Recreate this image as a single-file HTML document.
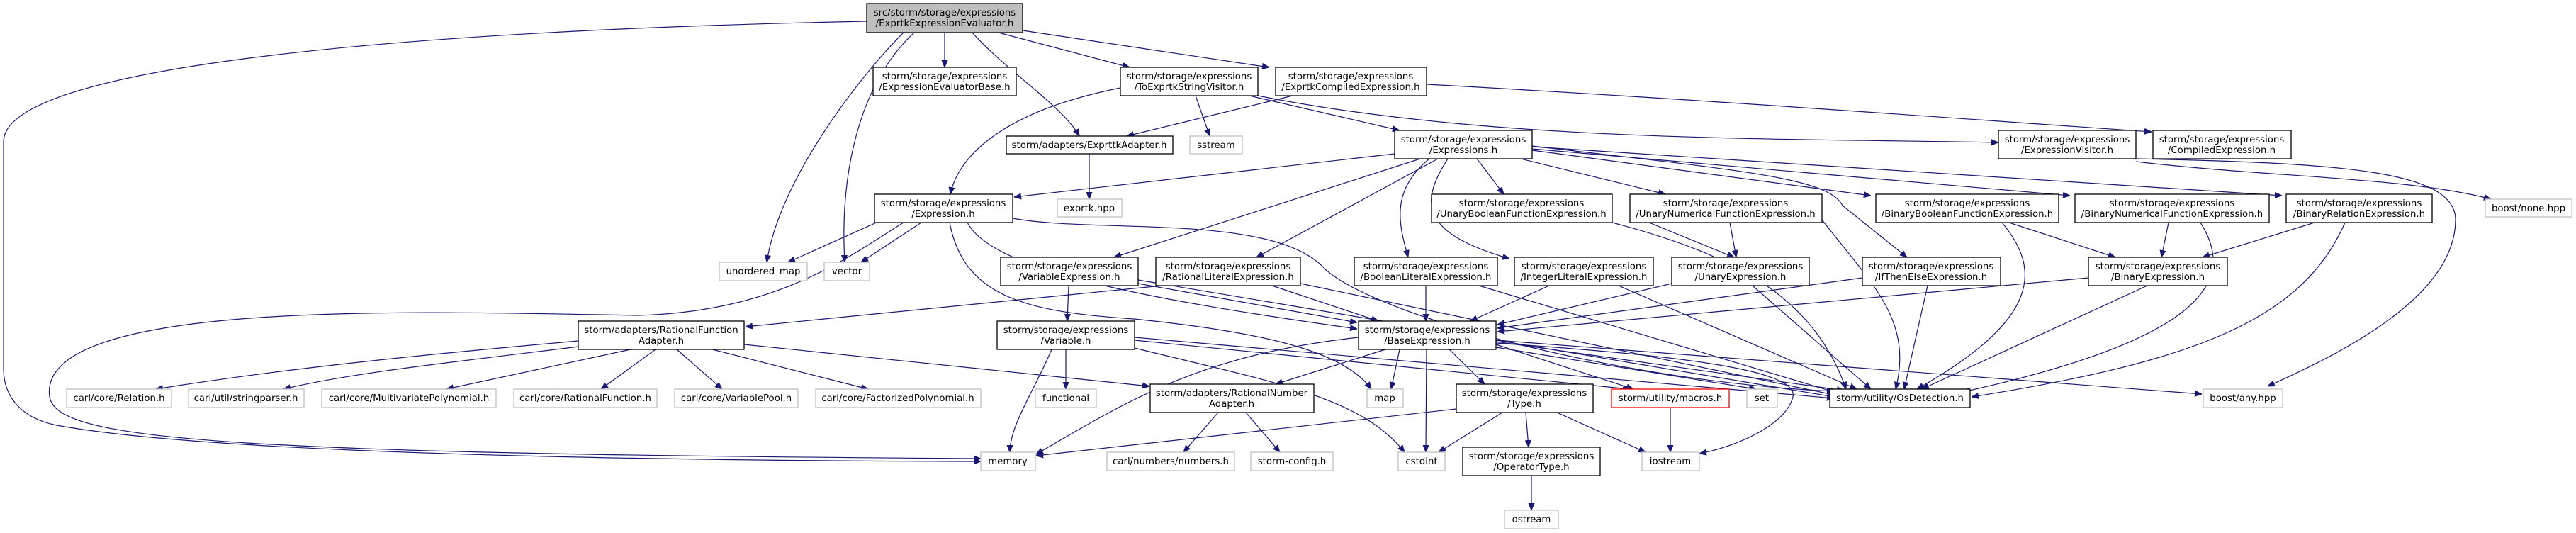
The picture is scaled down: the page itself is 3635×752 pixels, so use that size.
<!DOCTYPE html>
<html><head><meta charset="utf-8"><style>
html,body{margin:0;padding:0;background:#fff;}
svg{display:block;}
text{font-family:"DejaVu Sans","Liberation Sans",sans-serif;font-size:13.3px;fill:#000;text-anchor:middle;}
.e{fill:none;stroke:#191970;stroke-width:1.2;}
.n{fill:#fff;stroke:#000;stroke-width:1.3;}
.g{fill:#fff;stroke:#bfbfbf;stroke-width:1.3;}
</style></head><body>
<svg width="3635" height="752" viewBox="0 0 3635 752" xmlns="http://www.w3.org/2000/svg">
<defs><marker id="a" viewBox="0 0 10 10" refX="10" refY="5" markerWidth="10" markerHeight="10" markerUnits="userSpaceOnUse" orient="auto"><path d="M0,1 L10,5 L0,9 z" fill="#191970" stroke="#191970"/></marker></defs>
<g marker-end="url(#a)">
<!-- main -->
<path class="e" d="M1223,30 C500,45 5,100 5,200 L5,520 C5,560 30,590 80,600 C300,640 900,650 1384,651"/>
<path class="e" d="M1275,46 C1220,100 1100,250 1082,370"/>
<path class="e" d="M1290,46 C1210,120 1185,250 1192,370"/>
<path class="e" d="M1333,46 L1333,95"/>
<path class="e" d="M1372,46 C1420,100 1500,150 1523,192"/>
<path class="e" d="M1409,46 L1594,95"/>
<path class="e" d="M1443,43 L1791,95"/>
<!-- TESV -->
<path class="e" d="M1581,124 C1400,160 1350,230 1341,274"/>
<path class="e" d="M1687,135 L1707,192"/>
<path class="e" d="M1763,135 L1975,184"/>
<path class="e" d="M1775,135 C2100,200 2500,195 2820,201"/>
<!-- ECE -->
<path class="e" d="M1824,135 L1590,192"/>
<path class="e" d="M2013,119 C2400,140 2800,170 3036,186"/>
<path class="e" d="M1537,217 L1537,281"/>
<!-- Expressions.h -->
<path class="e" d="M1968,217 L1431,278"/>
<path class="e" d="M2004,224 L1572,363"/>
<path class="e" d="M2029,224 L1773,363"/>
<path class="e" d="M2017,224 C1960,270 1975,320 1987,363"/>
<path class="e" d="M2043,224 C2000,290 2010,330 2130,365"/>
<path class="e" d="M2084,224 L2122,274"/>
<path class="e" d="M2146,224 L2350,274"/>
<path class="e" d="M2162,206 C2450,240 2580,250 2600,290 L2691,363"/>
<path class="e" d="M2162,212 L2640,276"/>
<path class="e" d="M2162,210 L2921,276"/>
<path class="e" d="M2162,207 L3220,276"/>
<!-- Expression.h -->
<path class="e" d="M1250,308 L1112,370"/>
<path class="e" d="M1300,314 L1215,370"/>
<path class="e" d="M1275,314 C1200,360 1100,440 900,445 C600,440 50,420 70,560 C80,620 300,640 1384,647"/>
<path class="e" d="M1340,314 C1360,420 1450,440 1600,450 C1800,470 1900,500 1935,549"/>
<path class="e" d="M1365,314 C1400,380 1600,420 1915,464"/>
<path class="e" d="M1429,308 C1550,330 1800,300 1870,380 C1950,450 2300,540 2588,552"/>
<!-- VE etc -->
<path class="e" d="M1508,403 L1506,453"/>
<path class="e" d="M1606,400 L1915,455"/>
<path class="e" d="M1606,395 L2588,560"/>
<path class="e" d="M1640,403 L1052,461"/>
<path class="e" d="M1795,403 L1945,453"/>
<path class="e" d="M1835,400 L2592,558"/>
<path class="e" d="M2012,403 L2012,453"/>
<path class="e" d="M2087,403 L2598,556"/>
<path class="e" d="M2186,403 L2075,453"/>
<path class="e" d="M2284,403 L2620,549"/>
<path class="e" d="M2359,400 L2113,458"/>
<path class="e" d="M2473,403 L2640,549"/>
<path class="e" d="M2628,392 L2113,463"/>
<path class="e" d="M2720,403 L2687,549"/>
<path class="e" d="M2947,392 L2113,468"/>
<path class="e" d="M3030,403 L2712,549"/>
<path class="e" d="M2327,314 L2447,363"/>
<path class="e" d="M2275,314 C2450,360 2560,420 2605,549"/>
<path class="e" d="M2441,314 L2450,363"/>
<path class="e" d="M2571,310 C2640,400 2700,450 2675,549"/>
<path class="e" d="M2835,314 L2985,363"/>
<path class="e" d="M2825,314 C2880,380 2880,450 2705,549"/>
<path class="e" d="M3060,314 L3050,363"/>
<path class="e" d="M3105,314 C3160,400 3100,480 2770,553"/>
<path class="e" d="M3266,314 L3108,363"/>
<path class="e" d="M3309,314 C3250,450 3100,510 2782,560"/>
<!-- EV -->
<path class="e" d="M3014,224 C3300,230 3465,240 3465,310 C3465,420 3300,500 3200,545"/>
<path class="e" d="M3014,228 C3200,250 3400,250 3515,281"/>
<!-- RFA -->
<path class="e" d="M816,481 C600,500 400,520 220,549"/>
<path class="e" d="M816,489 C650,510 500,525 400,549"/>
<path class="e" d="M890,493 L630,549"/>
<path class="e" d="M925,493 L848,549"/>
<path class="e" d="M955,493 L1019,549"/>
<path class="e" d="M1005,493 L1225,549"/>
<path class="e" d="M1050,486 L1622,545"/>
<!-- Var -->
<path class="e" d="M1484,493 C1460,550 1425,600 1425,638"/>
<path class="e" d="M1504,493 L1504,549"/>
<path class="e" d="M1601,491 C1800,540 1920,560 1982,638"/>
<path class="e" d="M1601,480 L2300,549"/>
<path class="e" d="M1601,476 L2588,562"/>
<!-- Base -->
<path class="e" d="M1917,476 C1700,500 1600,560 1462,641"/>
<path class="e" d="M1955,493 L1800,542"/>
<path class="e" d="M1975,493 L1963,549"/>
<path class="e" d="M2013,493 L2012,638"/>
<path class="e" d="M2045,493 L2095,542"/>
<path class="e" d="M2111,486 L2305,549"/>
<path class="e" d="M2111,490 L2478,549"/>
<path class="e" d="M2111,482 L2602,551"/>
<path class="e" d="M2111,480 L3107,556"/>
<path class="e" d="M2111,484 C2350,500 2540,520 2530,560 C2520,600 2450,630 2398,640"/>
<!-- Type etc -->
<path class="e" d="M2055,577 L1462,643"/>
<path class="e" d="M2120,582 L2030,638"/>
<path class="e" d="M2153,582 L2157,631"/>
<path class="e" d="M2197,582 L2322,638"/>
<path class="e" d="M2161,671 L2161,720"/>
<path class="e" d="M2357,575 L2357,638"/>
<path class="e" d="M1719,582 L1670,638"/>
<path class="e" d="M1758,582 L1806,638"/>
</g>
<!-- nodes -->
<rect x="1223" y="5" width="220" height="41" fill="#bfbfbf" stroke="#000" stroke-width="1.3"/>
<text x="1333" y="22">src/storm/storage/expressions</text><text x="1333" y="37">/ExprtkExpressionEvaluator.h</text>

<rect class="n" x="1232" y="95" width="202" height="40"/><text x="1333" y="112">storm/storage/expressions</text><text x="1333" y="127">/ExpressionEvaluatorBase.h</text>
<rect class="n" x="1581" y="95" width="194" height="40"/><text x="1678" y="112">storm/storage/expressions</text><text x="1678" y="127">/ToExprtkStringVisitor.h</text>
<rect class="n" x="1800" y="95" width="213" height="40"/><text x="1906" y="112">storm/storage/expressions</text><text x="1906" y="127">/ExprtkCompiledExpression.h</text>

<rect class="n" x="1420" y="192" width="235" height="25"/><text x="1537" y="209">storm/adapters/ExprttkAdapter.h</text>
<rect class="g" x="1679" y="192" width="74" height="25"/><text x="1716" y="209">sstream</text>
<rect class="n" x="1968" y="184" width="194" height="40"/><text x="2065" y="201">storm/storage/expressions</text><text x="2065" y="216">/Expressions.h</text>
<rect class="n" x="2820" y="184" width="194" height="40"/><text x="2917" y="201">storm/storage/expressions</text><text x="2917" y="216">/ExpressionVisitor.h</text>
<rect class="n" x="3038" y="184" width="195" height="40"/><text x="3135" y="201">storm/storage/expressions</text><text x="3135" y="216">/CompiledExpression.h</text>

<rect class="n" x="1234" y="274" width="195" height="40"/><text x="1331" y="291">storm/storage/expressions</text><text x="1331" y="306">/Expression.h</text>
<rect class="g" x="1492" y="281" width="91" height="25"/><text x="1537" y="298">exprtk.hpp</text>
<rect class="n" x="2020" y="274" width="255" height="40"/><text x="2147" y="291">storm/storage/expressions</text><text x="2147" y="306">/UnaryBooleanFunctionExpression.h</text>
<rect class="n" x="2300" y="274" width="271" height="40"/><text x="2435" y="291">storm/storage/expressions</text><text x="2435" y="306">/UnaryNumericalFunctionExpression.h</text>
<rect class="n" x="2647" y="274" width="258" height="40"/><text x="2776" y="291">storm/storage/expressions</text><text x="2776" y="306">/BinaryBooleanFunctionExpression.h</text>
<rect class="n" x="2928" y="274" width="274" height="40"/><text x="3065" y="291">storm/storage/expressions</text><text x="3065" y="306">/BinaryNumericalFunctionExpression.h</text>
<rect class="n" x="3226" y="274" width="206" height="40"/><text x="3329" y="291">storm/storage/expressions</text><text x="3329" y="306">/BinaryRelationExpression.h</text>
<rect class="g" x="3507" y="281" width="122" height="25"/><text x="3568" y="298">boost/none.hpp</text>

<rect class="g" x="1015" y="370" width="124" height="26"/><text x="1077" y="387">unordered_map</text>
<rect class="g" x="1163" y="370" width="64" height="26"/><text x="1195" y="387">vector</text>
<rect class="n" x="1412" y="363" width="194" height="40"/><text x="1509" y="380">storm/storage/expressions</text><text x="1509" y="395">/VariableExpression.h</text>
<rect class="n" x="1631" y="363" width="204" height="40"/><text x="1733" y="380">storm/storage/expressions</text><text x="1733" y="395">/RationalLiteralExpression.h</text>
<rect class="n" x="1911" y="363" width="202" height="40"/><text x="2012" y="380">storm/storage/expressions</text><text x="2012" y="395">/BooleanLiteralExpression.h</text>
<rect class="n" x="2137" y="363" width="196" height="40"/><text x="2235" y="380">storm/storage/expressions</text><text x="2235" y="395">/IntegerLiteralExpression.h</text>
<rect class="n" x="2359" y="363" width="194" height="40"/><text x="2456" y="380">storm/storage/expressions</text><text x="2456" y="395">/UnaryExpression.h</text>
<rect class="n" x="2628" y="363" width="195" height="40"/><text x="2725" y="380">storm/storage/expressions</text><text x="2725" y="395">/IfThenElseExpression.h</text>
<rect class="n" x="2947" y="363" width="196" height="40"/><text x="3045" y="380">storm/storage/expressions</text><text x="3045" y="395">/BinaryExpression.h</text>

<rect class="n" x="816" y="453" width="234" height="40"/><text x="933" y="470">storm/adapters/RationalFunction</text><text x="933" y="485">Adapter.h</text>
<rect class="n" x="1407" y="453" width="194" height="40"/><text x="1504" y="470">storm/storage/expressions</text><text x="1504" y="485">/Variable.h</text>
<rect class="n" x="1917" y="453" width="194" height="40"/><text x="2014" y="470">storm/storage/expressions</text><text x="2014" y="485">/BaseExpression.h</text>

<rect class="g" x="94" y="549" width="148" height="26"/><text x="168" y="566">carl/core/Relation.h</text>
<rect class="g" x="266" y="549" width="163" height="26"/><text x="347" y="566">carl/util/stringparser.h</text>
<rect class="g" x="454" y="549" width="246" height="26"/><text x="577" y="566">carl/core/MultivariatePolynomial.h</text>
<rect class="g" x="725" y="549" width="202" height="26"/><text x="826" y="566">carl/core/RationalFunction.h</text>
<rect class="g" x="952" y="549" width="174" height="26"/><text x="1039" y="566">carl/core/VariablePool.h</text>
<rect class="g" x="1151" y="549" width="233" height="26"/><text x="1267" y="566">carl/core/FactorizedPolynomial.h</text>
<rect class="g" x="1461" y="549" width="86" height="26"/><text x="1504" y="566">functional</text>
<rect class="n" x="1623" y="542" width="231" height="40"/><text x="1738" y="559">storm/adapters/RationalNumber</text><text x="1738" y="574">Adapter.h</text>
<rect class="g" x="1929" y="549" width="51" height="26"/><text x="1954" y="566">map</text>
<rect class="n" x="2055" y="542" width="193" height="40"/><text x="2151" y="559">storm/storage/expressions</text><text x="2151" y="574">/Type.h</text>
<rect x="2274" y="549" width="166" height="26" fill="#fff" stroke="#ff0000" stroke-width="1.3"/><text x="2357" y="566">storm/utility/macros.h</text>
<rect class="g" x="2465" y="549" width="43" height="26"/><text x="2486" y="566">set</text>
<rect class="n" x="2582" y="549" width="198" height="26"/><text x="2681" y="566">storm/utility/OsDetection.h</text>
<rect class="g" x="3109" y="549" width="112" height="26"/><text x="3165" y="566">boost/any.hpp</text>

<rect class="g" x="1384" y="638" width="77" height="26"/><text x="1422" y="655">memory</text>
<rect class="g" x="1562" y="638" width="180" height="26"/><text x="1652" y="655">carl/numbers/numbers.h</text>
<rect class="g" x="1765" y="638" width="116" height="26"/><text x="1823" y="655">storm-config.h</text>
<rect class="g" x="1973" y="638" width="66" height="26"/><text x="2006" y="655">cstdint</text>
<rect class="n" x="2064" y="631" width="194" height="40"/><text x="2161" y="648">storm/storage/expressions</text><text x="2161" y="663">/OperatorType.h</text>
<rect class="g" x="2317" y="638" width="81" height="26"/><text x="2357" y="655">iostream</text>
<rect class="g" x="2123" y="720" width="76" height="26"/><text x="2161" y="737">ostream</text>
</svg>
</body></html>
